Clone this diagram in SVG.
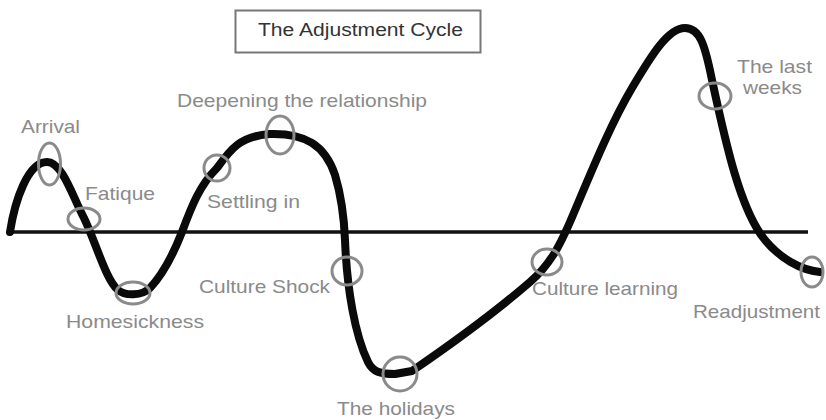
<svg xmlns="http://www.w3.org/2000/svg" width="826" height="420" viewBox="0 0 826 420">
<style>
.lbl{font-family:"Liberation Sans",Arial,sans-serif;font-size:19px;fill:#8a8a8a}
.mark{fill:none;stroke:#8a8a8a;stroke-width:3}
.title{font-family:"Liberation Sans",Arial,sans-serif;font-size:18px;fill:#333}
</style>
<rect width="826" height="420" fill="#fff"/>
<g id="title">
<rect x="235.5" y="10.5" width="245" height="42" fill="#fff" stroke="#777" stroke-width="2"/>
<text class="title" x="258" y="36" textLength="205" lengthAdjust="spacingAndGlyphs">The Adjustment Cycle</text>
</g>
<g id="connectors">
<line x1="9" y1="232" x2="808" y2="232" stroke="#111" stroke-width="3.5"/>
<path d="M10,232 C15,200 28,162 47,162 C62,162 72,195 84,218 C96,243 106,280 118,290 C125,296 142,296 150,288 C165,272 175,250 182,232 C192,205 200,185 217,168 C230,150 240,136 270,134 C305,133 325,145 335,175 C341,195 344,215 345,240 C347,290 355,335 368,362 C373,372 380,374 395,374 L412,371 C450,345 500,308 530,282 C550,265 560,245 570,222 C590,175 610,125 632,88 C651,56 668,28 685,28 C700,28 705,45 712,80 C725,140 740,210 765,240 C780,258 800,270 820,272" fill="none" stroke="#0a0a0a" stroke-width="8" stroke-linecap="round" stroke-linejoin="round"/>
</g>
<g id="arrival"><ellipse class="mark" cx="49.5" cy="164" rx="11" ry="21"/><text class="lbl" x="21" y="133" textLength="59" lengthAdjust="spacingAndGlyphs">Arrival</text></g>
<g id="fatique"><ellipse class="mark" cx="84" cy="219" rx="16" ry="11"/><text class="lbl" x="85" y="200" textLength="70" lengthAdjust="spacingAndGlyphs">Fatique</text></g>
<g id="homesickness"><ellipse class="mark" cx="133" cy="293" rx="17" ry="11"/><text class="lbl" x="66" y="328" textLength="138" lengthAdjust="spacingAndGlyphs">Homesickness</text></g>
<g id="settling"><ellipse class="mark" cx="217" cy="168" rx="13" ry="13"/><text class="lbl" x="207" y="208" textLength="93" lengthAdjust="spacingAndGlyphs">Settling in</text></g>
<g id="deepening"><ellipse class="mark" cx="280" cy="135" rx="14" ry="19"/><text class="lbl" x="177" y="107" textLength="250" lengthAdjust="spacingAndGlyphs">Deepening the relationship</text></g>
<g id="shock"><ellipse class="mark" cx="347" cy="271" rx="15" ry="14"/><text class="lbl" x="199" y="293" textLength="131" lengthAdjust="spacingAndGlyphs">Culture Shock</text></g>
<g id="holidays"><ellipse class="mark" cx="400" cy="374" rx="17" ry="17"/><text class="lbl" x="337" y="415" textLength="118" lengthAdjust="spacingAndGlyphs">The holidays</text></g>
<g id="learning"><ellipse class="mark" cx="547" cy="262" rx="15" ry="13"/><text class="lbl" x="532" y="295" textLength="146" lengthAdjust="spacingAndGlyphs">Culture learning</text></g>
<g id="lastweeks"><ellipse class="mark" cx="715" cy="96" rx="16" ry="13"/><text class="lbl" x="737" y="73" textLength="75" lengthAdjust="spacingAndGlyphs">The last</text><text class="lbl" x="743" y="94" textLength="59" lengthAdjust="spacingAndGlyphs">weeks</text></g>
<g id="readjustment"><ellipse class="mark" cx="812" cy="272" rx="11" ry="15"/><text class="lbl" x="693" y="318" textLength="127" lengthAdjust="spacingAndGlyphs">Readjustment</text></g>
</svg>
